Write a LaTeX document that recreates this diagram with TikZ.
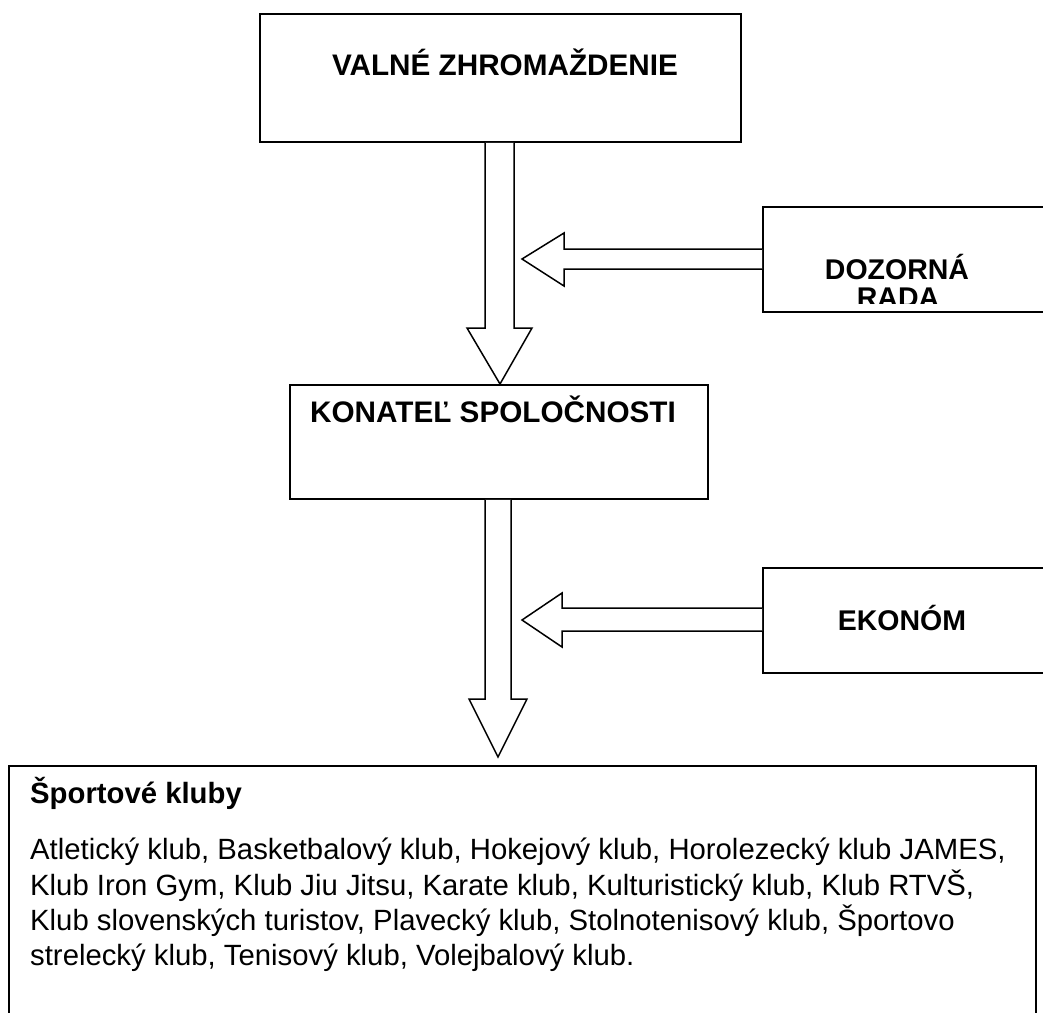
\documentclass[tikz,border=0pt]{standalone}
\usepackage{fontspec}
\setmainfont{Liberation Sans}
\begin{document}
\begin{tikzpicture}[x=1pt,y=-1pt,
  box/.style={draw, line width=1.9pt, fill=white, inner sep=0pt},
  blk/.style={draw, line width=1.5pt, fill=white, line join=miter},
  ttl/.style={inner sep=0pt, font=\fontsize{29.7}{33}\selectfont\bfseries},
  rtl/.style={inner sep=0pt, font=\fontsize{28.5}{32}\selectfont\bfseries},
  body/.style={inner sep=0pt, anchor=base west, font=\fontsize{29.3}{35}\selectfont}]
\clip (0,0) rectangle (1043,1012);
\fill[white] (0,0) rectangle (1043,1012);

% boxes
\node[box, anchor=north west, minimum width=481pt, minimum height=128pt] (vz) at (259,13) {};
\node[box, anchor=north west, minimum width=418pt, minimum height=114pt] (kon) at (289,384) {};
\node[box, anchor=north west, minimum width=330pt, minimum height=105pt] (dr) at (762,206) {};
\node[box, anchor=north west, minimum width=330pt, minimum height=105pt] (ek) at (762,567) {};
\node[box, anchor=north west, minimum width=1027pt, minimum height=300pt] (sk) at (8,765) {};

% texts
\node[ttl, anchor=base] (vzt) at (505,75) {VALNÉ ZHROMAŽDENIE};
\node[ttl, anchor=base] (kont) at (493,422) {KONATEĽ SPOLOČNOSTI};
\node[rtl, anchor=base] (dr1) at (897,279) {DOZORNÁ};
\begin{scope}
  \clip (762,206) rectangle (1043,303);
  \node[rtl, anchor=base] (dr2) at (898,307) {RADA};
\end{scope}
\node[rtl, anchor=base] (ekt) at (902,630) {EKONÓM};

\node[inner sep=0pt, anchor=base west, font=\fontsize{29.3}{33}\selectfont\bfseries] (skh) at (30,803) {Športové kluby};
\node[body] (l1) at (30,859) {Atletický klub, Basketbalový klub, Hokejový klub, Horolezecký klub JAMES,};
\node[body] (l2) at (30,895) {Klub Iron Gym, Klub Jiu Jitsu, Karate klub, Kulturistický klub, Klub RTVŠ,};
\node[body] (l3) at (30,930) {Klub slovenských turistov, Plavecký klub, Stolnotenisový klub, Športovo};
\node[body] (l4) at (30,965) {strelecký klub, Tenisový klub, Volejbalový klub.};

% block arrows
\draw[blk] (vz.south -| 485,0) -- (485,328) -- (467,328) -- (500,384) -- (532,328) -- (514,328) -- (vz.south -| 514,0);
\draw[blk] (kon.south -| 485,0) -- (485,699) -- (469,699) -- (498,757) -- (527,699) -- (511,699) -- (kon.south -| 511,0);
\draw[blk] (dr.west |- 0,249) -- (564,249) -- (564,233) -- (522,259) -- (564,286) -- (564,269) -- (dr.west |- 0,269);
\draw[blk] (ek.west |- 0,608) -- (562,608) -- (562,593) -- (522,620) -- (562,647) -- (562,631) -- (ek.west |- 0,631);
\end{tikzpicture}
\end{document}
